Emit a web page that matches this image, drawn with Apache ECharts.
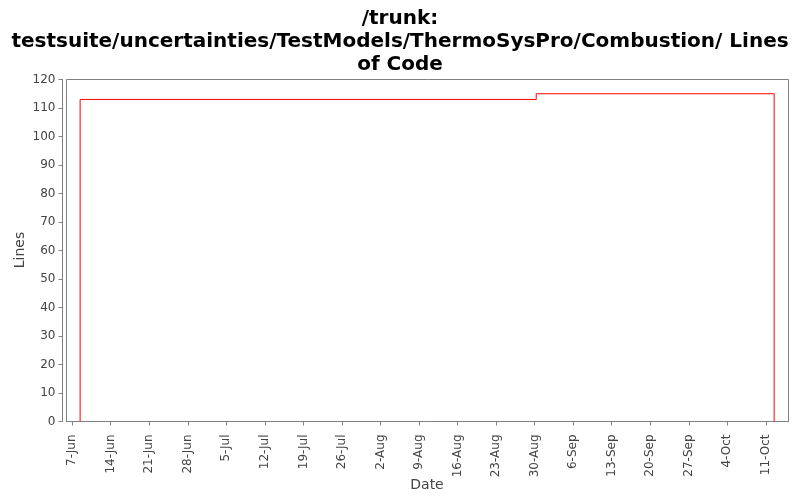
<!DOCTYPE html>
<html>
<head>
<meta charset="utf-8">
<script src="https://cdn.jsdelivr.net/npm/echarts@6/dist/echarts.min.js"></script>
<style>html,body{margin:0;padding:0;background:#fff}#c{width:800px;height:500px}</style>
</head>
<body>
<div id="c"></div>
<script>
var titleText = "/trunk:\ntestsuite/uncertainties/TestModels/ThermoSysPro/Combustion/ Lines\nof Code";
var xAxisName = "Date";
var yAxisName = "Lines";
var dates = ["2009-06-08 10:50", "2009-06-08 10:50", "2009-08-30 07:00", "2009-10-12 12:00"];
var lines = [0, 113, 115, 0];
var tickDates = ["2009-06-07","2009-06-14","2009-06-21","2009-06-28","2009-07-05","2009-07-12","2009-07-19","2009-07-26","2009-08-02","2009-08-09","2009-08-16","2009-08-23","2009-08-30","2009-09-06","2009-09-13","2009-09-20","2009-09-27","2009-10-04","2009-10-11"];
var xMin = "2009-06-05 23:30";
var xMax = "2009-10-15 02:30";
var monthNames = ["Jan","Feb","Mar","Apr","May","Jun","Jul","Aug","Sep","Oct","Nov","Dec"];

function ts(s){ var p = s.split(/[- :]/); return new Date(+p[0], +p[1]-1, +p[2], +(p[3]||0), +(p[4]||0)).getTime(); }
var tickVals = tickDates.map(ts);
var chart = echarts.init(document.getElementById('c'), null, {renderer:'canvas'});
chart.setOption({
  backgroundColor: '#fff',
  animation: false,
  title: {
    text: titleText,
    left: 'center',
    top: 2,
    textStyle: {fontFamily: 'DejaVu Sans', fontWeight: 'bold', fontSize: 20, lineHeight: 23, color: '#000'}
  },
  graphic: [
    {type: 'text', x: 427, y: 485, style: {text: xAxisName, fontFamily: 'DejaVu Sans', fontSize: 14, fill: '#444', align: 'center', verticalAlign: 'middle'}},
    {type: 'text', x: 20, y: 250, rotation: Math.PI / 2, style: {text: yAxisName, fontFamily: 'DejaVu Sans', fontSize: 14, fill: '#444', align: 'center', verticalAlign: 'middle'}}
  ],
  grid: {left: 66.5, right: 11.5, top: 79.5, bottom: 78.5, show: true, borderColor: '#808080', borderWidth: 1, backgroundColor: '#fff', outerBoundsMode: 'none', containLabel: false},
  xAxis: {
    type: 'value',
    min: ts(xMin),
    max: ts(xMax),
    offset: 4,
    axisLine: {show: true, lineStyle: {color: '#808080'}},
    axisTick: {show: true, length: 4, lineStyle: {color: '#808080'}, customValues: tickVals},
    splitLine: {show: false},
    axisLabel: {
      rotate: 90, fontFamily: 'DejaVu Sans', fontSize: 12, color: '#444', margin: 9,
      customValues: tickVals,
      formatter: function(v){ var d = new Date(v); return d.getDate() + '-' + monthNames[d.getMonth()]; }
    }
  },
  yAxis: {
    type: 'value',
    min: 0, max: 120, interval: 10,
    offset: 4,
    axisLine: {show: true, lineStyle: {color: '#808080'}},
    axisTick: {show: true, length: 4, lineStyle: {color: '#808080'}},
    splitLine: {show: false},
    axisLabel: {fontFamily: 'DejaVu Sans', fontSize: 12, color: '#444', margin: 7}
  },
  series: [{
    type: 'line',
    step: 'end',
    symbol: 'none',
    lineStyle: {color: '#ff0000', width: 1},
    data: dates.map(function(d, i){ return [ts(d), lines[i]]; })
  }]
});
</script>
</body>
</html>
